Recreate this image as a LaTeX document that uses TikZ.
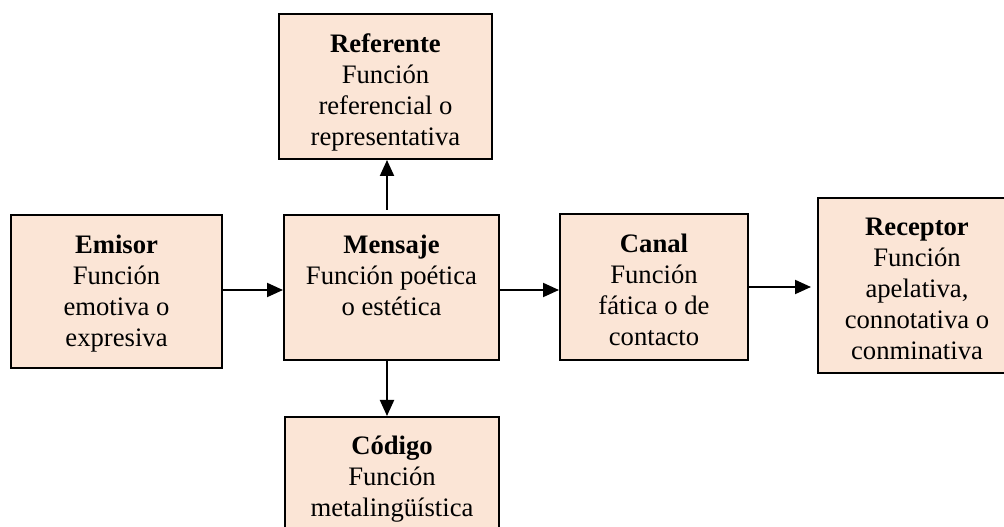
\documentclass[tikz,border=0pt]{standalone}
\usepackage{fontspec}
\setmainfont{Liberation Serif}
\usetikzlibrary{arrows.meta}
\definecolor{peach}{HTML}{FBE5D6}
\begin{document}
\begin{tikzpicture}[x=0.75pt,y=-0.75pt,
  box/.style={draw=black,fill=peach,line width=1.5pt,rectangle,inner sep=0pt},
  txt/.style={anchor=north,inner sep=0pt,align=center,font=\fontsize{20}{23.25}\selectfont},
  arr/.style={line width=1.5pt,-{Triangle[length=12pt,width=10.5pt]}}]
\useasboundingbox (0,0) rectangle (1004,527);
\clip (0,0) rectangle (1004,527);
\node[box,minimum width=213*0.75pt,minimum height=145*0.75pt] (ref) at (385.5,86.5) {};
\node[box,minimum width=211*0.75pt,minimum height=153*0.75pt] (emi) at (116.5,291.5) {};
\node[box,minimum width=215*0.75pt,minimum height=145*0.75pt] (men) at (391.5,287.5) {};
\node[box,minimum width=188*0.75pt,minimum height=146*0.75pt] (can) at (654,287) {};
\node[box,minimum width=198*0.75pt,minimum height=175*0.75pt] (rec) at (917,285.5) {};
\node[box,minimum width=214*0.75pt,minimum height=145*0.75pt] (cod) at (392,489.5) {};
\node[txt] (tref) at (385.5,33.5) {\textbf{Referente}\\Función\\referencial o\\representativa};
\node[txt] (temi) at (116.5,234.5) {\textbf{Emisor}\\Función\\emotiva o\\expresiva};
\node[txt] (tmen) at (391.5,234.5) {\textbf{Mensaje}\\Función poética\\o estética};
\node[txt] (tcan) at (654,233.5) {\textbf{Canal}\\Función\\fática o de\\contacto};
\node[txt] (trec) at (917,217.5) {\textbf{Receptor}\\Función\\apelativa,\\connotativa o\\conminativa};
\node[txt] (tcod) at (392,436) {\textbf{Código}\\Función\\metalingüística};
\coordinate (r1) at (0,290);
\coordinate (r2) at (0,287);
\coordinate (c1) at (387,0);
\draw[arr] (emi.east |- r1) -- (men.west |- r1);
\draw[arr] (men.east |- r1) -- (can.west |- r1);
\draw[arr,shorten >=4.5pt] (can.east |- r2) -- (rec.west |- r2);
\draw[arr,shorten <=3pt] (men.north -| c1) -- (ref.south -| c1);
\draw[arr] (men.south -| c1) -- (cod.north -| c1);
\end{tikzpicture}
\end{document}
